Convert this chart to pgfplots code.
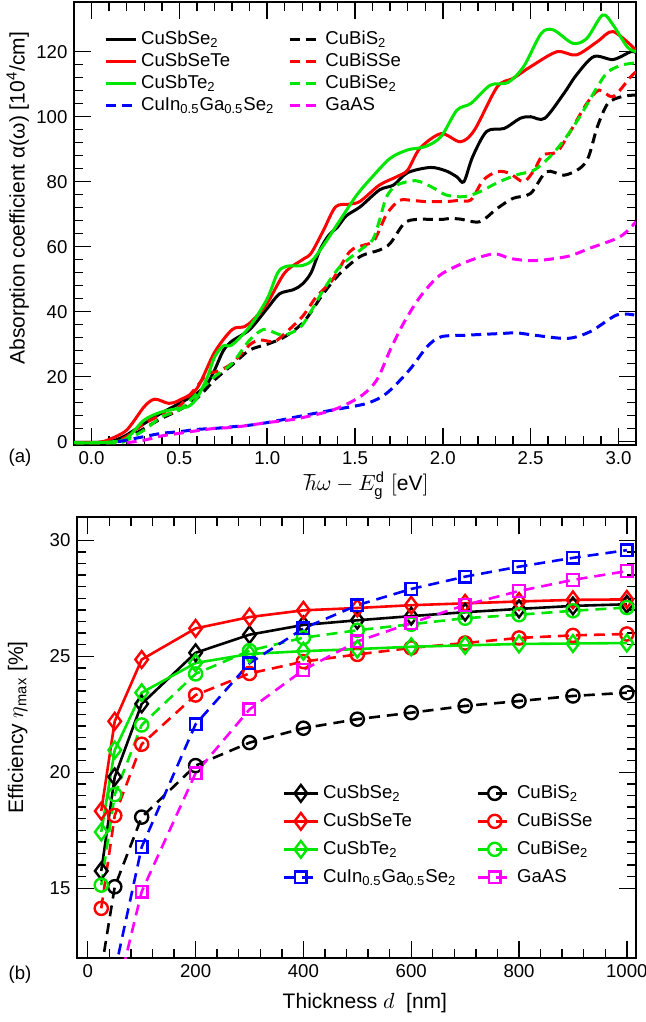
\documentclass[border=0pt]{standalone}
\usepackage{fontspec}
\setmainfont{Liberation Sans}
\usepackage{pgfplots}
\pgfplotsset{compat=1.18}
\definecolor{cgreen}{RGB}{0,230,0}
\definecolor{cmag}{RGB}{255,0,255}
\definecolor{cblue}{RGB}{0,0,255}
\tikzset{dsh/.style={dash pattern=on 5pt off 3pt}}
\pgfplotsset{
  panel/.style={
    scale only axis,
    tick align=inside,
    major tick length=8.5pt,
    minor tick length=4.5pt,
    axis line style={line width=1pt},
    every tick/.style={black, line width=0.7pt},
    /pgf/number format/assume math mode=true,
    /pgf/number format/set thousands separator={},
    label style={font=\fontsize{10.5}{12}\selectfont},
    legend cell align=left,
    legend columns=2,
  },
}
\begin{document}
\fontsize{9.3}{11}\selectfont
\begin{tikzpicture}
\useasboundingbox (0pt,0pt) rectangle (322.5pt,-511pt);

% (a) absorption
\begin{axis}[panel,
  at={(37pt,-222.5pt)}, anchor=south west,
  width=281pt, height=221.5pt,
  xmin=-0.1, xmax=3.1, ymin=-1, ymax=135.3,
  xtick={0,0.5,1,1.5,2,2.5,3}, minor x tick num=4,
  ytick={0,20,40,60,80,100,120}, minor y tick num=4,
  xticklabel style={/pgf/number format/.cd, fixed, fixed zerofill, precision=1},
  xlabel={$\hbar\omega - E_{\mathrm{g}}^{\mathrm{d}}\ [\mathrm{eV}]$},
  ylabel={Absorption coefficient α(ω) [10\textsuperscript{4}/cm]},
  xlabel style={at={(axis description cs:0.52,-0.092)}, anchor=center},
  ylabel style={at={(axis description cs:-0.1,0.557)}, anchor=center},
  legend style={at={(axis description cs:0.053,0.942)}, anchor=north west,
    draw=none, fill=none, inner sep=0pt,
    nodes={inner ysep=0.6pt, text height=7.6pt, text depth=2.2pt},
    /tikz/every even column/.append style={column sep=5pt}},
  legend image code/.code={\draw[#1] (0pt,0pt) -- (15pt,0pt);},
  every axis plot/.append style={line width=1.5pt, smooth},
]
\addplot[black] coordinates {(-0.1,-0.2) (0,-0.2) (0.1,0) (0.15,0.8) (0.2,2.1) (0.3,5.6) (0.4,8.9) (0.5,11.8) (0.6,14.9) (0.66,18) (0.7,22) (0.75,28) (0.8,31) (0.9,34.5) (1.0,41) (1.07,45.5) (1.15,46.8) (1.2,48.5) (1.25,52) (1.3,59) (1.35,63.5) (1.4,66) (1.45,69.5) (1.53,72.3) (1.64,77.5) (1.72,79) (1.8,82.8) (1.93,84.4) (2.02,83.3) (2.08,81.5) (2.12,80) (2.17,87.7) (2.25,95.5) (2.35,96.4) (2.44,99.5) (2.5,100) (2.58,99.5) (2.69,107.2) (2.76,112.8) (2.86,118.5) (2.97,117.6) (3.07,120) (3.1,119.7)};
\addlegendentry{CuSbSe\textsubscript{2}}
\addplot[black, dsh] coordinates {(-0.1,-0.3) (0.1,-0.3) (0.15,0) (0.2,1.0) (0.3,4.1) (0.4,7.2) (0.5,9.8) (0.6,13.3) (0.7,19) (0.8,23.6) (0.9,28.2) (1.0,30) (1.1,32.3) (1.21,37) (1.32,45.6) (1.415,51.8) (1.53,57) (1.64,59) (1.7,61) (1.78,67.2) (1.85,68.4) (1.99,68.4) (2.04,68.7) (2.1,68.5) (2.21,67.7) (2.31,71.8) (2.4,74.9) (2.5,76.4) (2.59,83.1) (2.69,82) (2.78,84.1) (2.83,87.7) (2.88,96.9) (2.94,104.1) (3.02,106.2) (3.1,106.7)};
\addlegendentry{CuBiS\textsubscript{2}}
\addplot[red] coordinates {(-0.1,-0.2) (0,-0.2) (0.05,-0.1) (0.1,0.7) (0.2,3.6) (0.3,10.8) (0.36,13.1) (0.44,11.8) (0.5,12.8) (0.6,16.4) (0.7,27.5) (0.8,34.5) (0.87,35.4) (0.92,37.5) (1.0,42.6) (1.1,52) (1.2,56) (1.25,58) (1.32,65) (1.39,72.3) (1.47,73.1) (1.53,74) (1.64,79) (1.74,81.6) (1.8,83.6) (1.87,90.3) (1.99,94.8) (2.1,92.3) (2.18,95.9) (2.31,109.2) (2.4,111.8) (2.5,115.4) (2.65,120) (2.76,119) (2.88,123.1) (2.97,126.2) (3.1,120.5)};
\addlegendentry{CuSbSeTe}
\addplot[red, dsh] coordinates {(-0.1,-0.3) (0.1,-0.3) (0.15,0.3) (0.2,1.6) (0.3,5.6) (0.4,8.2) (0.45,8.7) (0.5,10.8) (0.6,17) (0.66,21) (0.71,21.5) (0.8,24.1) (0.9,29.8) (0.96,31.3) (1.04,30.8) (1.1,33.3) (1.2,38.5) (1.28,44.6) (1.37,49.7) (1.47,58.5) (1.55,60.5) (1.61,62) (1.68,70) (1.75,74.2) (1.8,74.4) (1.9,73.9) (2.02,73.9) (2.08,74.2) (2.16,74.4) (2.23,80.5) (2.31,83.1) (2.38,82.6) (2.46,80) (2.52,83.6) (2.57,88.2) (2.65,89.2) (2.72,94.9) (2.82,104.1) (2.89,108.2) (2.97,106.2) (3.07,112.3) (3.1,113.8)};
\addlegendentry{CuBiSSe}
\addplot[cgreen] coordinates {(-0.1,-0.3) (0,-0.3) (0.12,0) (0.2,1.0) (0.3,6.7) (0.4,9.2) (0.5,10.3) (0.55,10.8) (0.6,13.4) (0.66,20) (0.7,26) (0.75,29.5) (0.8,29.8) (0.9,35.4) (1.0,44) (1.06,52) (1.11,54) (1.2,54.2) (1.26,56) (1.34,62) (1.415,68.2) (1.51,75.9) (1.6,81.6) (1.7,87.2) (1.8,89.8) (1.9,90.8) (1.99,93.9) (2.08,102) (2.16,104.1) (2.27,109.7) (2.37,110.5) (2.46,115.4) (2.56,125.6) (2.63,126.7) (2.74,122.6) (2.82,124.1) (2.91,131.3) (2.97,128.2) (3.05,121.5) (3.1,120)};
\addlegendentry{CuSbTe\textsubscript{2}}
\addplot[cgreen, dsh] coordinates {(-0.1,-0.3) (0.15,-0.3) (0.2,0.5) (0.3,3.6) (0.4,7.7) (0.5,9.8) (0.6,14.9) (0.7,20) (0.8,24.1) (0.9,31.3) (0.98,34.6) (1.04,33.6) (1.1,32.8) (1.2,35.9) (1.32,46.7) (1.415,53.9) (1.53,59) (1.6,62.1) (1.64,68.2) (1.68,75.4) (1.74,79) (1.85,80.3) (1.95,78) (2.02,75.9) (2.12,75.4) (2.21,76.9) (2.31,79.7) (2.42,82.1) (2.52,83.6) (2.61,87.7) (2.69,92.8) (2.78,100) (2.88,109.2) (2.94,113.8) (3.02,115.9) (3.1,116.6)};
\addlegendentry{CuBiSe\textsubscript{2}}
\addplot[cblue, dsh] coordinates {(0.15,0) (0.2,0.5) (0.3,1.6) (0.4,2.6) (0.5,3.1) (0.6,3.8) (0.7,4.1) (0.8,4.6) (0.9,5.1) (1.0,5.9) (1.1,6.9) (1.19,7.9) (1.376,9.8) (1.567,11.8) (1.68,14.9) (1.81,22.1) (1.91,29.2) (1.99,32.3) (2.14,32.8) (2.33,33.3) (2.42,33.5) (2.52,32.8) (2.71,31.8) (2.84,33.9) (2.99,39) (3.09,39)};
\addlegendentry{CuIn\textsubscript{0.5}Ga\textsubscript{0.5}Se\textsubscript{2}}
\addplot[cmag, dsh] coordinates {(0.2,-0.3) (0.3,0.5) (0.4,1.8) (0.5,2.6) (0.6,3.4) (0.7,4.1) (0.8,4.4) (0.9,5.1) (1.0,5.9) (1.1,6.5) (1.19,7.3) (1.376,9.8) (1.53,13.9) (1.624,19) (1.7,28.2) (1.776,36.4) (1.871,44.6) (1.985,51.3) (2.137,55.4) (2.29,57.8) (2.385,56.4) (2.518,55.7) (2.708,57) (2.84,59.6) (3.01,63.1) (3.1,67.7)};
\addlegendentry{GaAS}
\end{axis}
\node at (10pt,-229pt) {(a)};

% (b) efficiency
\begin{axis}[panel,
  at={(38.5pt,-479pt)}, anchor=south west,
  width=279.5pt, height=220.5pt,
  xmin=-20, xmax=1017, ymin=12, ymax=31,
  xtick={0,200,400,600,800,1000}, minor x tick num=4,
  ytick={15,20,25,30}, minor y tick num=9,
  xlabel={Thickness $d$ \ [nm]},
  ylabel={Efficiency $\eta$\textsubscript{max} [\%]},
  xlabel style={at={(axis description cs:0.515,-0.102)}, anchor=center},
  ylabel style={at={(axis description cs:-0.106,0.523)}, anchor=center},
  legend style={at={(axis description cs:0.367,0.406)}, anchor=north west,
    draw=none, fill=none, inner sep=0pt,
    nodes={inner ysep=2.1pt, text height=7.6pt, text depth=2.2pt},
    /tikz/every even column/.append style={column sep=8pt}},
  legend image code/.code={\draw[mark repeat=2, mark phase=2, #1] plot coordinates {(0pt,0pt) (8.5pt,0pt) (17pt,0pt)};},
  every axis plot/.append style={line width=1.3pt, mark options={solid, line width=1.2pt}},
  ds/.style={dash pattern=on 5.5pt off 3.5pt},
]
\addplot[black, mark=diamond, mark size=4.2pt] coordinates {(25,15.75) (50,19.8) (100,22.95) (200,25.15) (300,25.93) (400,26.35) (500,26.55) (600,26.73) (700,26.9) (800,27.04) (900,27.17) (1000,27.24)};
\addlegendentry{CuSbSe\textsubscript{2}}
\addplot[black, ds, mark=o, mark size=3.3pt] coordinates {(25,11.5) (50,15.07) (100,18.07) (200,20.29) (300,21.28) (400,21.9) (500,22.29) (600,22.57) (700,22.86) (800,23.07) (900,23.29) (1000,23.43)};
\addlegendentry{CuBiS\textsubscript{2}}
\addplot[red, mark=diamond, mark size=4.2pt] coordinates {(25,18.33) (50,22.2) (100,24.86) (200,26.2) (300,26.69) (400,26.98) (500,27.08) (600,27.2) (700,27.28) (800,27.36) (900,27.43) (1000,27.45)};
\addlegendentry{CuSbSeTe}
\addplot[red, ds, mark=o, mark size=3.3pt] coordinates {(25,14.14) (50,18.14) (100,21.21) (200,23.33) (300,24.26) (400,24.77) (500,25.08) (600,25.36) (700,25.57) (800,25.79) (900,25.9) (1000,25.96)};
\addlegendentry{CuBiSSe}
\addplot[cgreen, mark=diamond, mark size=4.2pt] coordinates {(25,17.43) (50,20.96) (100,23.43) (200,24.71) (300,25.1) (400,25.22) (500,25.31) (600,25.41) (700,25.47) (800,25.53) (900,25.55) (1000,25.57)};
\addlegendentry{CuSbTe\textsubscript{2}}
\addplot[cgreen, ds, mark=o, mark size=3.3pt] coordinates {(25,15.14) (50,19.04) (100,22.04) (200,24.24) (300,25.24) (400,25.8) (500,26.12) (600,26.38) (700,26.64) (800,26.79) (900,26.96) (1000,27.1)};
\addlegendentry{CuBiSe\textsubscript{2}}
\addplot[cblue, ds, mark=square, mark size=2.9pt] coordinates {(50,11.4) (100,16.78) (200,22.07) (300,24.7) (400,26.2) (500,27.2) (600,27.9) (700,28.43) (800,28.86) (900,29.24) (1000,29.57)};
\addlegendentry{CuIn\textsubscript{0.5}Ga\textsubscript{0.5}Se\textsubscript{2}}
\addplot[cmag, ds, mark=square, mark size=2.9pt] coordinates {(50,10.07) (100,14.86) (200,19.96) (300,22.71) (400,24.41) (500,25.64) (600,26.43) (700,27.21) (800,27.81) (900,28.29) (1000,28.67)};
\addlegendentry{GaAS}
\end{axis}
\node at (10pt,-487.5pt) {(b)};
\end{tikzpicture}
\end{document}
